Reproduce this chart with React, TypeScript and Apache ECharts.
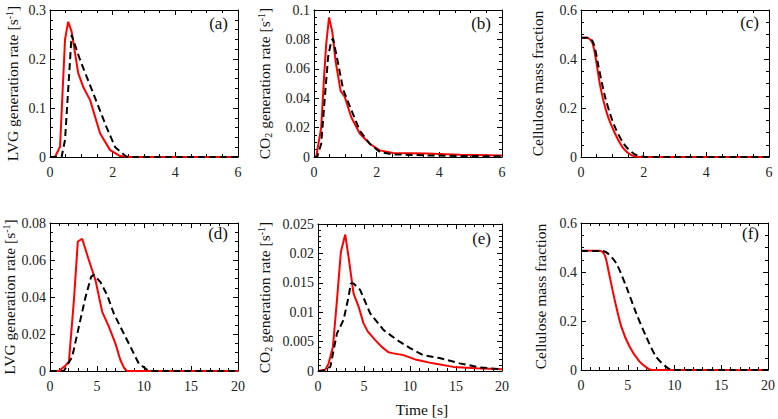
import React, { useEffect, useRef } from "react";
import * as echarts from "echarts";

// Panel (a): LVG generation rate, heating case 1
const redA_t = [0, 0.16, 0.32, 0.48, 0.58, 0.69, 0.9, 1.06, 1.28, 1.6, 1.92, 2.24, 2.6, 3, 4, 5, 6];
const redA_y = [0, 0, 0.021, 0.24, 0.276, 0.256, 0.171, 0.143, 0.116, 0.048, 0.014, 0.002, 0, 0, 0, 0, 0];
const blackA_t = [0, 0.37, 0.48, 0.69, 0.96, 1.38, 1.81, 2.08, 2.45, 3, 4, 5, 6];
const blackA_y = [0, 0, 0.035, 0.249, 0.198, 0.13, 0.06, 0.02, 0, 0, 0, 0, 0];

// Panel (b): CO2 generation rate, case 1
const redB_t = [0, 0.07, 0.23, 0.32, 0.39, 0.48, 0.585, 0.69, 0.85, 0.98, 1.19, 1.46, 1.78, 2.1, 2.52, 3.59, 4.65, 6];
const redB_y = [0, 0, 0.02, 0.054, 0.077, 0.095, 0.085, 0.065, 0.045, 0.041, 0.027, 0.016, 0.009, 0.0045, 0.0027, 0.0023, 0.0016, 0.0011];
const blackB_t = [0, 0.1, 0.23, 0.34, 0.45, 0.55, 0.61, 0.77, 0.93, 1.19, 1.46, 1.78, 2.1, 2.52, 3.59, 4.65, 6];
const blackB_y = [0, 0, 0.009, 0.039, 0.068, 0.079, 0.0805, 0.0635, 0.046, 0.032, 0.018, 0.009, 0.0034, 0.0018, 0.0011, 0.0007, 0.0005];

// Panel (c): cellulose mass fraction, case 1
const redC_t = [0, 0.19, 0.35, 0.46, 0.62, 0.83, 1.09, 1.36, 1.62, 1.89, 2.5, 6];
const redC_y = [0.487, 0.487, 0.47, 0.41, 0.286, 0.177, 0.095, 0.034, 0.007, 0, 0, 0];
const blackC_t = [0, 0.24, 0.4, 0.56, 0.77, 1.04, 1.36, 1.68, 2.05, 2.5, 6];
const blackC_y = [0.487, 0.487, 0.464, 0.368, 0.245, 0.136, 0.055, 0.014, 0, 0, 0];

// Panel (d): LVG generation rate, case 2
const redD_t = [0, 0.96, 1.66, 2.02, 2.55, 2.97, 3.43, 4.14, 4.85, 5.56, 6.27, 6.97, 7.5, 7.93, 8.2, 10, 15, 20];
const redD_y = [0, 0, 0.003, 0.005, 0.038, 0.07, 0.0715, 0.06, 0.049, 0.032, 0.024, 0.0148, 0.0058, 0.0013, 0, 0, 0, 0];
const blackD_t = [0, 1.49, 2.37, 3.08, 3.79, 4.39, 4.67, 5.38, 6.09, 6.8, 7.68, 8.57, 9.45, 9.98, 10.5, 15, 20];
const blackD_y = [0, 0, 0.0076, 0.024, 0.04, 0.051, 0.052, 0.048, 0.041, 0.031, 0.022, 0.013, 0.004, 0.002, 0, 0, 0];

// Panel (e): CO2 generation rate, case 2
const redE_t = [0, 0.8, 1.16, 1.62, 2.06, 2.49, 2.96, 3.32, 3.86, 4.4, 4.95, 5.42, 6.2, 6.93, 7.65, 8.2, 9.28, 10.7, 12.5, 14.7, 17.2, 20];
const redE_y = [0, 0.0002, 0.0013, 0.0041, 0.012, 0.0203, 0.0232, 0.0194, 0.0132, 0.011, 0.0081, 0.0067, 0.0053, 0.0041, 0.0032, 0.003, 0.0027, 0.0019, 0.0013, 0.0007, 0.00045, 0.0003];
const blackE_t = [0, 0.43, 1.34, 2.06, 2.78, 3.32, 3.57, 3.86, 4.58, 5.67, 7.11, 8.56, 10, 11.4, 13.2, 15.4, 17.6, 20];
const blackE_y = [0, 0, 0.0007, 0.0064, 0.0087, 0.0126, 0.0149, 0.0149, 0.0138, 0.0098, 0.007, 0.0053, 0.0039, 0.0027, 0.0022, 0.0013, 0.0006, 0.0003];

// Panel (f): cellulose mass fraction, case 2
const redF_t = [0, 2.02, 2.55, 3.0, 3.61, 4.32, 5.2, 6.27, 7.15, 7.68, 10, 20];
const redF_y = [0.487, 0.487, 0.468, 0.394, 0.285, 0.176, 0.095, 0.034, 0.007, 0, 0, 0];
const blackF_t = [0, 2.19, 2.9, 3.79, 4.85, 5.91, 6.97, 8.04, 9.1, 9.8, 12, 20];
const blackF_y = [0.486, 0.486, 0.475, 0.434, 0.339, 0.231, 0.136, 0.054, 0.0136, 0, 0, 0];

// Axis ranges / labels
const panelLetters = ["(a)", "(b)", "(c)", "(d)", "(e)", "(f)"];
const yNames = [
  "{n|LVG generation rate [s}{sup|-1}{n|]}",
  "{n|CO}{sub|2}{n| generation rate [s}{sup|-1}{n|]}",
  "{n|Cellulose mass fraction}",
  "{n|LVG generation rate [s}{sup|-1}{n|]}",
  "{n|CO}{sub|2}{n| generation rate [s}{sup|-1}{n|]}",
  "{n|Cellulose mass fraction}",
];
const xMaxes = [6, 6, 6, 20, 20, 20];
const xIntervals = [2, 2, 2, 5, 5, 5];
const yMaxes = [0.3, 0.1, 0.6, 0.08, 0.025, 0.6];
const yIntervals = [0.1, 0.02, 0.2, 0.02, 0.005, 0.2];
const xAxisTitle = "Time [s]";

const zip = (t: number[], y: number[]) => t.map((v, i) => [v, y[i]]);
const redData = [zip(redA_t, redA_y), zip(redB_t, redB_y), zip(redC_t, redC_y), zip(redD_t, redD_y), zip(redE_t, redE_y), zip(redF_t, redF_y)];
const blackData = [zip(blackA_t, blackA_y), zip(blackB_t, blackB_y), zip(blackC_t, blackC_y), zip(blackD_t, blackD_y), zip(blackE_t, blackE_y), zip(blackF_t, blackF_y)];

const FONT = "'Liberation Serif', 'Times New Roman', serif";

const grids = [
  { left: 50, top: 10, width: 188, height: 147 },
  { left: 314, top: 10, width: 188, height: 147 },
  { left: 581, top: 10, width: 188, height: 147 },
  { left: 49, top: 223, width: 189, height: 148 },
  { left: 318, top: 224, width: 184, height: 147 },
  { left: 581, top: 223, width: 188, height: 147 },
];
const nameGaps = [29, 41, 35, 28, 45, 32];
const xMinorSplits = [4, 4, 4, 5, 5, 5];
const yMinorSplits = [5, 4, 4, 4, 5, 4];
const letterPos = [
  [228, 23], [491, 23], [759, 22], [228, 233], [491, 238], [759, 233],
];

export default function App() {
  const ref = useRef<HTMLDivElement>(null);
  useEffect(() => {
    document.body.style.margin = "0";
    if (!ref.current) return;
    const chart = echarts.init(ref.current, undefined, { renderer: "svg" });
    const axisLine = { show: true, onZero: false, lineStyle: { color: "#000", width: 1 } };
    const tick = { show: true, inside: true, length: 5, lineStyle: { color: "#000", width: 1 } };
    const label = { fontFamily: FONT, fontSize: 14, color: "#222" };
    const xAxis: any[] = [];
    const yAxis: any[] = [];
    const series: any[] = [];
    for (let i = 0; i < 6; i++) {
      const minorX = { show: true, splitNumber: xMinorSplits[i], length: 3, lineStyle: { color: "#000", width: 1 } };
      const minorY = { show: true, splitNumber: yMinorSplits[i], length: 3, lineStyle: { color: "#000", width: 1 } };
      xAxis.push({
        type: "value", gridIndex: i, position: "bottom", min: 0, max: xMaxes[i], interval: xIntervals[i],
        axisLine, axisTick: tick, minorTick: minorX, splitLine: { show: false },
        axisLabel: { ...label, margin: 8 },
      });
      xAxis.push({
        type: "value", gridIndex: i, position: "top", min: 0, max: xMaxes[i], interval: xIntervals[i],
        axisLine, axisTick: tick, minorTick: minorX, splitLine: { show: false },
        axisLabel: { show: false },
      });
      yAxis.push({
        type: "value", gridIndex: i, position: "left", min: 0, max: yMaxes[i], interval: yIntervals[i],
        axisLine, axisTick: tick, minorTick: minorY, splitLine: { show: false },
        axisLabel: { ...label, margin: 4 },
        name: yNames[i], nameLocation: "middle", nameGap: nameGaps[i],
        nameTextStyle: {
          rich: {
            n: { fontFamily: FONT, fontSize: 15.5, color: "#111", lineHeight: 17 },
            sup: { fontFamily: FONT, fontSize: 10, color: "#111", verticalAlign: "top", lineHeight: 17, padding: [0, 0, 6, 0] },
            sub: { fontFamily: FONT, fontSize: 10, color: "#111", verticalAlign: "bottom", lineHeight: 17, padding: [6, 0, 0, 0] },
          },
        },
      });
      yAxis.push({
        type: "value", gridIndex: i, position: "right", min: 0, max: yMaxes[i], interval: yIntervals[i],
        axisLine, axisTick: tick, minorTick: minorY, splitLine: { show: false },
        axisLabel: { show: false },
      });
      series.push({
        type: "line", xAxisIndex: 2 * i, yAxisIndex: 2 * i, data: redData[i], showSymbol: false, symbol: "none",
        lineStyle: { color: "#ff0000", width: 2 }, smooth: i === 2 || i === 5 ? 0.3 : false,
      });
      series.push({
        type: "line", xAxisIndex: 2 * i, yAxisIndex: 2 * i, data: blackData[i], showSymbol: false, symbol: "none",
        lineStyle: { color: "#000", width: 2, type: [7, 4] }, smooth: i === 2 || i === 5 ? 0.3 : false,
      });
    }
    const graphic: any[] = panelLetters.map((t, i) => ({
      type: "text", x: letterPos[i][0], y: letterPos[i][1],
      style: { text: t, fontFamily: FONT, fontSize: 17, fill: "#111", textAlign: "right", textVerticalAlign: "middle" },
    }));
    graphic.push({
      type: "text", x: 422, y: 409,
      style: { text: xAxisTitle, fontFamily: FONT, fontSize: 15.5, fill: "#111", textAlign: "center", textVerticalAlign: "middle" },
    });
    chart.setOption({
      animation: false,
      backgroundColor: "#fff",
      grid: grids,
      xAxis, yAxis, series, graphic,
    });
    return () => chart.dispose();
  }, []);
  return <div ref={ref} style={{ position: "absolute", left: 0, top: 0, width: 778, height: 419 }} />;
}
